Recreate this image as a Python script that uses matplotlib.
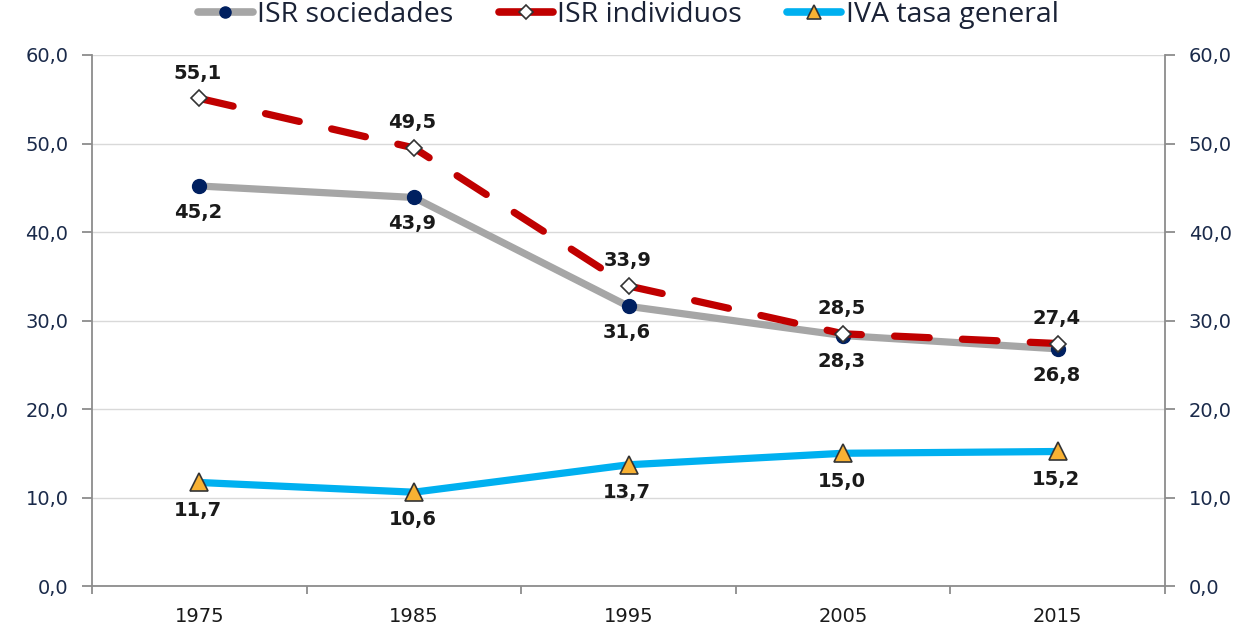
import matplotlib.pyplot as plt
from matplotlib.lines import Line2D

years = ["1975", "1985", "1995", "2005", "2015"]
isr_sociedades = [45.2, 43.9, 31.6, 28.3, 26.8]
isr_individuos = [55.1, 49.5, 33.9, 28.5, 27.4]
iva_general = [11.7, 10.6, 13.7, 15.0, 15.2]
y_ticks = [0, 10, 20, 30, 40, 50, 60]


def fmt(v):
    return f"{v:.1f}".replace(".", ",")


plt.rcParams["font.family"] = ["DejaVu Sans"]

fig = plt.figure(figsize=(12.47, 6.3), dpi=100)
ax = fig.add_axes([0.0738, 0.0698, 0.8605, 0.8429])
x = list(range(len(years)))

gray_style = dict(color="#a6a6a6", marker="o", mfc="#002060", mec="#002060")
red_style = dict(color="#c00000", marker="D", mfc="white", mec="#333333", mew=1.2)
blue_style = dict(color="#00b0f0", marker="^", mfc="#f8b133", mec="#333333", mew=1.2)

ax.plot(x, isr_sociedades, lw=5.2, solid_capstyle="round", ms=10, zorder=3, **gray_style)
ax.plot(x, isr_individuos, lw=5.2, dashes=(4.8, 4.6), dash_capstyle="round", ms=8.5,
        zorder=4, **red_style)
ax.plot(x, iva_general, lw=5.2, solid_capstyle="round", ms=12.5, zorder=4, **blue_style)

lab = dict(ha="center", va="center", fontsize=14, fontweight="bold", color="#1a1a1a",
           textcoords="offset points", zorder=5)
for i in x:
    ax.annotate(fmt(isr_individuos[i]), (i, isr_individuos[i]), xytext=(-1, 18), **lab)
    ax.annotate(fmt(isr_sociedades[i]), (i, isr_sociedades[i]), xytext=(-1, -19), **lab)
    ax.annotate(fmt(iva_general[i]), (i, iva_general[i]), xytext=(-1, -20), **lab)

ax.set_xlim(-0.5, len(years) - 0.5)
ax.set_ylim(0, 60)
ax.set_yticks(y_ticks)
ax.set_yticklabels([fmt(v) for v in y_ticks])
ax.set_xticks(x)
ax.set_xticklabels(years)
ax.set_xticks([i + 0.5 for i in range(-1, len(years))], minor=True)
ax.tick_params(axis="x", which="major", length=0, pad=15, labelsize=14, labelcolor="#1a1a1a")
ax.tick_params(axis="x", which="minor", length=5.5, color="#8c8c8c", width=1.3, direction="out")
ax.tick_params(axis="y", length=7, color="#8c8c8c", width=1.3, labelsize=14,
               labelcolor="#1a2a4a", pad=10, right=True, labelright=True)
ax.grid(axis="y", color="#d9d9d9", lw=1)
ax.set_axisbelow(True)

for side in ["left", "right", "bottom"]:
    ax.spines[side].set_color("#8c8c8c")
    ax.spines[side].set_linewidth(1.3)
ax.spines["top"].set_visible(False)

handles = [
    Line2D([], [], lw=5.5, solid_capstyle="round", ms=8, **gray_style),
    Line2D([], [], lw=5.5, solid_capstyle="round", ms=7, **red_style),
    Line2D([], [], lw=5.5, solid_capstyle="round", ms=10, **blue_style),
]
leg = ax.legend(handles, ["ISR sociedades", "ISR individuos", "IVA tasa general"],
                loc="center", bbox_to_anchor=(0.5, 1.075), ncol=3, frameon=False,
                prop={"family": "Open Sans", "size": 20.5}, handlelength=1.9,
                handletextpad=0.15, columnspacing=1.6, borderaxespad=0)
for t in leg.get_texts():
    t.set_color("#1a2236")

fig.savefig("out.png", dpi=100)
